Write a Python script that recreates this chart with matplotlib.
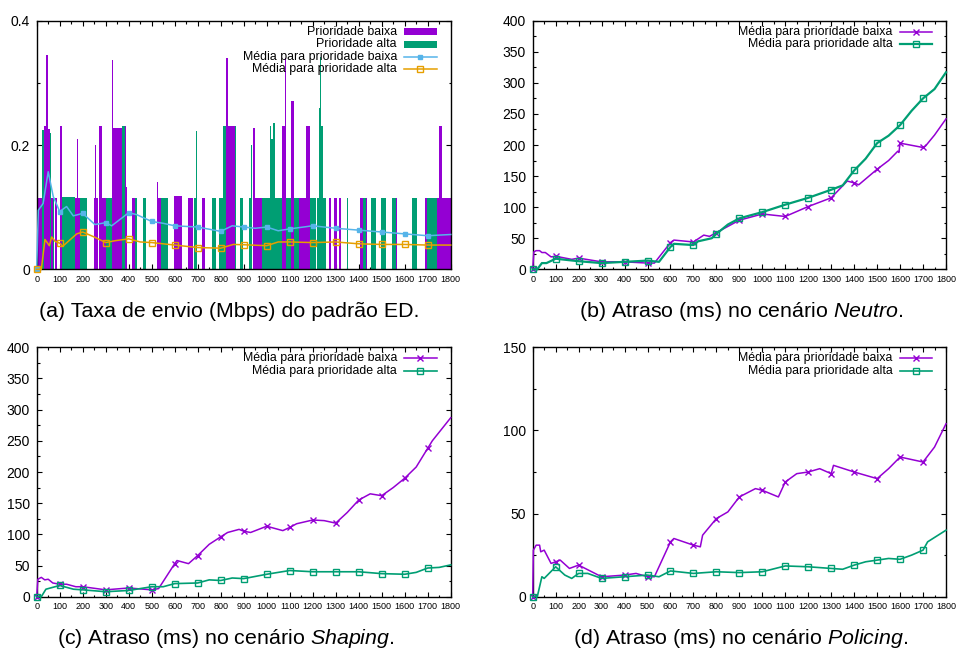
import matplotlib
matplotlib.use('Agg')
import matplotlib.pyplot as plt
from matplotlib.lines import Line2D
from matplotlib.patches import Rectangle
from matplotlib.ticker import MultipleLocator

plt.rcParams['font.family'] = ['Liberation Sans', 'DejaVu Sans']
plt.rcParams['mathtext.fontset'] = 'custom'
plt.rcParams['mathtext.rm'] = 'Liberation Sans'
plt.rcParams['mathtext.it'] = 'Liberation Sans:italic'

PURPLE = '#9400d3'
GREEN = '#009e73'
BLUE = '#56b4e9'
ORANGE = '#e69f00'

# ---------------- (a) send rate bars (segments of time, Mbps) ----------------
low_start = [0, 32, 40, 50, 63, 80, 100, 165, 175, 178, 250, 255, 258, 272, 282, 328, 332, 382, 388,
             416, 522, 527, 597, 658, 719, 822, 830, 942, 949, 1068, 1080, 1106, 1140, 1169,
             1270, 1292, 1313, 1405, 1432, 1560, 1687, 1742, 1749, 1764]
low_end = [22, 40, 50, 57, 70, 90, 108, 175, 178, 188, 255, 258, 265, 282, 300, 332, 372, 388, 394,
           428, 527, 540, 630, 681, 730, 830, 860, 949, 981, 1080, 1084, 1118, 1169, 1190,
           1278, 1304, 1322, 1420, 1437, 1567, 1699, 1749, 1764, 1800]
low_rate = [0.115, 0.23, 0.345, 0.225, 0.115, 0.115, 0.23, 0.115, 0.21, 0.115, 0.115, 0.2, 0.115, 0.23, 0.115,
            0.337, 0.227, 0.23, 0.133, 0.115, 0.14, 0.115, 0.118, 0.115, 0.115, 0.34, 0.23, 0.227, 0.115,
            0.23, 0.34, 0.27, 0.115, 0.23, 0.115, 0.115, 0.115, 0.115, 0.115, 0.115, 0.115, 0.115, 0.23, 0.115]

high_start = [22, 24, 57, 70, 108, 190, 212, 300, 372, 428, 464, 540, 684, 692, 764, 793, 812, 860, 886,
              923, 930, 981, 1014, 1020, 1026, 1035, 1086, 1118, 1190, 1220, 1228, 1232, 1236, 1245, 1348, 1420,
              1452, 1495, 1546, 1633, 1699]
high_end = [24, 30, 63, 76, 165, 208, 220, 328, 384, 436, 476, 570, 692, 695, 778, 812, 822, 866, 895,
            930, 934, 1014, 1020, 1026, 1035, 1068, 1106, 1140, 1213, 1228, 1232, 1236, 1245, 1256, 1354, 1432,
            1474, 1518, 1560, 1655, 1742]
high_rate = [0.115, 0.224, 0.22, 0.115, 0.117, 0.115, 0.115, 0.115, 0.23, 0.115, 0.115, 0.115, 0.115, 0.223,
             0.115, 0.115, 0.23, 0.23, 0.115, 0.115, 0.2, 0.115, 0.23, 0.21, 0.235, 0.115, 0.115, 0.115, 0.115,
             0.115, 0.26, 0.342, 0.23, 0.115, 0.115, 0.115, 0.115, 0.115, 0.115, 0.115, 0.115]

a_low_t = [0, 7, 28, 50, 72, 100, 130, 159, 200, 253, 300, 326, 400, 434, 500, 550, 600, 700, 800, 850,
           900, 950, 1000, 1050, 1100, 1200, 1300, 1400, 1500, 1600, 1700, 1800]
a_low_v = [0, 0.095, 0.106, 0.157, 0.117, 0.093, 0.101, 0.086, 0.090, 0.072, 0.075, 0.070, 0.091, 0.088,
           0.077, 0.074, 0.070, 0.068, 0.061, 0.070, 0.068, 0.066, 0.068, 0.062, 0.065, 0.070, 0.066,
           0.063, 0.060, 0.057, 0.054, 0.056]
a_high_t = [0, 20, 36, 55, 65, 80, 100, 113, 174, 200, 250, 300, 341, 400, 450, 500, 600, 700, 800, 855,
            900, 1000, 1050, 1100, 1200, 1300, 1400, 1500, 1600, 1700, 1800]
a_high_v = [0, 0, 0.048, 0.038, 0.052, 0.045, 0.042, 0.037, 0.057, 0.060, 0.052, 0.043, 0.046, 0.049,
            0.044, 0.043, 0.039, 0.035, 0.034, 0.040, 0.0395, 0.038, 0.044, 0.044, 0.043, 0.044, 0.041,
            0.040, 0.040, 0.039, 0.039]

# ---------------- (b) Neutro ----------------
b_low_t = [0, 5, 15, 30, 40, 55, 80, 100, 170, 200, 300, 400, 500, 530, 600, 615, 700, 745, 770, 800, 900,
           1000, 1100, 1200, 1300, 1370, 1400, 1420, 1500, 1550, 1590, 1595, 1600, 1700, 1710, 1750, 1800]
b_low_v = [0, 28, 30, 30, 27, 27, 20, 21, 16, 18, 12, 12, 10, 10, 43, 47, 44, 55, 53, 59, 79, 89, 85, 101,
           115, 142, 139, 136, 161, 175, 190, 188, 203, 196, 198, 216, 242]
b_high_t = [0, 20, 40, 60, 100, 200, 300, 400, 500, 550, 600, 615, 700, 720, 780, 800, 850, 900, 950, 1000,
            1100, 1200, 1300, 1350, 1400, 1450, 1500, 1550, 1600, 1650, 1700, 1750, 1800]
b_high_v = [0, 0, 10, 10, 17, 13, 10, 12, 14, 12, 36, 41, 39, 45, 50, 57, 72, 82, 87, 92, 104, 115, 128,
            135, 159, 178, 203, 215, 232, 255, 275, 290, 317]

# ---------------- (c) Shaping ----------------
c_low_t = [0, 5, 20, 35, 50, 70, 100, 130, 170, 200, 300, 400, 500, 530, 600, 610, 660, 700, 750, 800, 830,
           880, 900, 930, 1000, 1070, 1100, 1130, 1200, 1250, 1300, 1350, 1400, 1450, 1500, 1550, 1600,
           1650, 1700, 1720, 1800]
c_low_v = [0, 28, 31, 27, 28, 22, 20, 20, 16, 16, 11, 14, 11, 13, 53, 58, 53, 66, 84, 96, 103, 108, 105,
           103, 113, 106, 111, 117, 123, 122, 118, 135, 155, 165, 162, 175, 190, 208, 238, 250, 287]
c_high_t = [0, 20, 40, 60, 100, 160, 200, 300, 400, 500, 550, 600, 700, 750, 800, 850, 900, 1000, 1100,
            1200, 1300, 1400, 1500, 1600, 1650, 1700, 1750, 1800]
c_high_v = [0, 0, 12, 14, 18, 12, 11, 8, 10, 16, 16, 21, 22, 27, 26, 30, 29, 36, 42, 40, 40, 40, 37, 36,
            39, 46, 47, 51]

# ---------------- (d) Policing ----------------
d_low_t = [0, 3, 15, 30, 35, 50, 80, 100, 120, 160, 200, 300, 400, 450, 500, 530, 600, 615, 700, 730, 740,
           800, 850, 900, 970, 1000, 1070, 1100, 1150, 1200, 1250, 1300, 1310, 1400, 1500, 1550, 1600,
           1700, 1750, 1800]
d_low_v = [0, 28, 31, 31, 27, 28, 20, 21, 22, 17, 19, 12, 13, 14, 12, 12, 33, 35, 31, 30, 37, 47, 51, 60,
           65, 64, 60, 69, 74, 75, 77, 74, 79, 75, 71, 77, 84, 81, 90, 104]
d_high_t = [0, 20, 40, 50, 100, 140, 170, 200, 240, 300, 400, 500, 550, 600, 700, 800, 900, 1000, 1100,
            1200, 1300, 1350, 1400, 1450, 1500, 1550, 1600, 1650, 1700, 1720, 1800]
d_high_v = [0, 0, 12, 11, 18, 13, 11, 14, 14, 11, 12, 13, 12, 15.5, 14, 15, 14.5, 15, 18.5, 18, 17, 16.5,
            19, 21, 22, 23, 22.5, 25, 28, 33, 40]

LOW_LABEL = 'Média para prioridade baixa'
HIGH_LABEL = 'Média para prioridade alta'

W, H = 957, 651
fig = plt.figure(figsize=(W / 100, H / 100), dpi=100)


def px_axes(left, top, right, bottom):
    return fig.add_axes([left / W, 1 - bottom / H, (right - left) / W, (bottom - top) / H])


ax_a = px_axes(36.7, 20.7, 450.7, 269.3)
ax_b = px_axes(532.7, 20.7, 946.0, 269.3)
ax_c = px_axes(36.7, 347.3, 450.7, 596.7)
ax_d = px_axes(532.7, 347.3, 946.0, 596.7)


def style(ax, ymax, ymajor, yminor):
    ax.set_xlim(0, 1800)
    ax.set_ylim(0, ymax)
    ax.xaxis.set_major_locator(MultipleLocator(100))
    ax.xaxis.set_minor_locator(MultipleLocator(50))
    ax.yaxis.set_major_locator(MultipleLocator(ymajor))
    ax.yaxis.set_minor_locator(MultipleLocator(yminor))
    ax.tick_params(which='both', direction='in', top=True, right=True, width=0.8, colors='black')
    ax.tick_params(which='major', length=3.5)
    ax.tick_params(which='minor', length=1.8)
    ax.tick_params(axis='x', labelsize=6.5, pad=4)
    ax.tick_params(axis='y', labelsize=10, pad=5)
    for s in ax.spines.values():
        s.set_linewidth(1.0)
        s.set_color('black')


def marks(ts):
    return [i for i, t in enumerate(ts) if t % 100 == 0 and t < 1800]


def legend(ax, entries):
    for i, (label, kind, color, marker, mfc, ms, lw) in enumerate(entries):
        y = 0.956 - i * 0.0503
        ax.text(0.870, y, label, ha='right', va='center', transform=ax.transAxes, fontsize=8.9, zorder=5)
        if kind == 'bar':
            ax.add_patch(Rectangle((0.888, y - 0.014), 0.078, 0.028, transform=ax.transAxes,
                                   facecolor=color, edgecolor='none', zorder=5))
        else:
            ax.add_line(Line2D([0.888, 0.966], [y, y], transform=ax.transAxes, color=color, lw=lw, zorder=5))
            ax.add_line(Line2D([0.927], [y], transform=ax.transAxes, color=color, marker=marker,
                               markerfacecolor=mfc, markersize=ms, markeredgewidth=1.0, zorder=5))


# (a)
style(ax_a, 0.4, 0.2, 0.1)
ax_a.yaxis.set_major_formatter(plt.FuncFormatter(lambda v, p: '0' if v == 0 else f'{v:.1f}'))
ax_a.bar(x=low_start, height=low_rate, width=[e - s for s, e in zip(low_start, low_end)], align='edge',
         color=PURPLE, linewidth=0, zorder=2)
ax_a.bar(x=high_start, height=high_rate, width=[e - s for s, e in zip(high_start, high_end)], align='edge',
         color=GREEN, linewidth=0, zorder=2)
ax_a.plot(a_low_t, a_low_v, color=BLUE, lw=1.1, marker='s', markersize=3, markerfacecolor=BLUE,
          markevery=marks(a_low_t), zorder=3, clip_on=False)
ax_a.plot(a_high_t, a_high_v, color=ORANGE, lw=1.1, marker='s', markersize=4.5, markerfacecolor='none',
          markeredgewidth=1.0, markevery=marks(a_high_t), zorder=3, clip_on=False)
legend(ax_a, [('Prioridade baixa', 'bar', PURPLE, None, None, 0, 0),
              ('Prioridade alta', 'bar', GREEN, None, None, 0, 0),
              (LOW_LABEL, 'line', BLUE, 's', BLUE, 3, 1.1),
              (HIGH_LABEL, 'line', ORANGE, 's', 'none', 4.5, 1.1)])

# (b), (c), (d)
for ax, ymax, ymaj, ymin, lt, lv, ht, hv, glw in [
        (ax_b, 400, 50, 25, b_low_t, b_low_v, b_high_t, b_high_v, 1.6),
        (ax_c, 400, 50, 25, c_low_t, c_low_v, c_high_t, c_high_v, 1.2),
        (ax_d, 150, 50, 25, d_low_t, d_low_v, d_high_t, d_high_v, 1.2)]:
    style(ax, ymax, ymaj, ymin)
    ax.plot(lt, lv, color=PURPLE, lw=1.1, marker='x', markersize=5, markeredgewidth=1.0,
            markevery=marks(lt), zorder=3, clip_on=False)
    ax.plot(ht, hv, color=GREEN, lw=glw, marker='s', markersize=5, markerfacecolor='none',
            markeredgewidth=1.0, markevery=marks(ht), zorder=3, clip_on=False)
    legend(ax, [(LOW_LABEL, 'line', PURPLE, 'x', PURPLE, 5, 1.1),
                (HIGH_LABEL, 'line', GREEN, 's', 'none', 5, glw)])

cap = dict(ha='center', va='center', fontsize=15.4)
fig.text(229 / W, 1 - 312 / H, '(a) Taxa de envio (Mbps) do padrão ED.', **cap)
fig.text(741 / W, 1 - 312 / H, r'(b) Atraso (ms) no cenário $\mathit{Neutro}$.', **cap)
fig.text(226 / W, 1 - 638 / H, r'(c) Atraso (ms) no cenário $\mathit{Shaping}$.', **cap)
fig.text(741 / W, 1 - 638 / H, r'(d) Atraso (ms) no cenário $\mathit{Policing}$.', **cap)

fig.savefig('out.png', dpi=100)
